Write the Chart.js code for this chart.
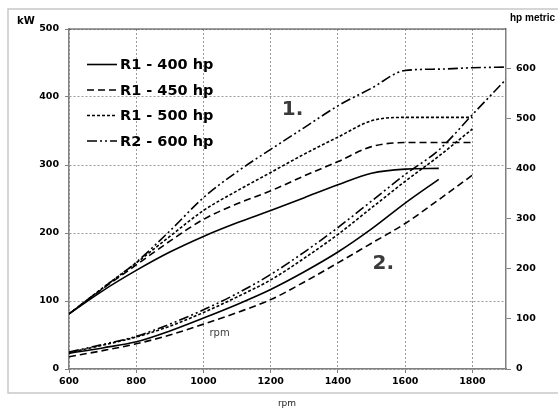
<!DOCTYPE html>
<html lang="en">
<head>
    <meta charset="UTF-8">
    <title>R1 / R2 power curves</title>
    <script src="https://cdn.jsdelivr.net/npm/chart.js"></script>
    <style>
        html, body { margin: 0; padding: 0; background: #fff; }
    </style>
</head>
<body>
    <canvas id="powerChart" width="558" height="412"></canvas>

    <script>
        // rpm points the curves were read at
        const rpm = [600, 700, 800, 900, 1000, 1100, 1200, 1300, 1400, 1500, 1600, 1700, 1800, 1900];

        const seriesNames = ['R1 - 400 hp', 'R1 - 450 hp', 'R1 - 500 hp', 'R2 - 600 hp'];

        // group 1. (upper curves), kW
        const upper400 = [81, 115, 145, 172, 195, 215, 233, 252, 271, 288, 294, 295, null, null];
        const upper450 = [81, 118, 153, 188, 220, 243, 262, 284, 305, 327, 333, 333, 333, null];
        const upper500 = [81, 119, 156, 195, 233, 262, 289, 316, 341, 365, 370, 370, 370, null];
        const upper600 = [81, 119, 157, 203, 252, 290, 323, 355, 387, 413, 439, 441, 443, 444];

        // group 2. (lower curves), kW
        const lower400 = [23, 31, 40, 56, 75, 95, 117, 143, 172, 206, 244, 279, null, null];
        const lower450 = [18, 27, 37, 50, 66, 83, 102, 128, 156, 185, 214, 249, 285, null];
        const lower500 = [24, 35, 47, 63, 83, 106, 131, 163, 198, 237, 276, 313, 353, null];
        const lower600 = [25, 36, 48, 66, 87, 111, 139, 172, 208, 247, 286, 322, 374, 426];

        const rpmTicks = [600, 800, 1000, 1200, 1400, 1600, 1800];
        const kwTicks = [0, 100, 200, 300, 400, 500];
        const hpTicks = [0, 100, 200, 300, 400, 500, 600];

        const KW_PER_HP = 0.7355;
        const lineStyles = [[], [7, 4], [3, 2], [10, 3, 2, 3, 2, 3]];

        function toPoints(values) {
            return rpm.map((r, i) => ({ x: r, y: values[i] }));
        }

        function makeDataset(label, values, dash) {
            return {
                label: label,
                data: toPoints(values),
                borderColor: '#000',
                borderWidth: 1.6,
                borderDash: dash,
                pointRadius: 0,
                fill: false,
                cubicInterpolationMode: 'monotone',
                spanGaps: false,
                yAxisID: 'y'
            };
        }

        const upperSets = [upper400, upper450, upper500, upper600];
        const lowerSets = [lower400, lower450, lower500, lower600];

        const datasets = [];
        upperSets.forEach((v, i) => datasets.push(makeDataset(seriesNames[i], v, lineStyles[i])));
        lowerSets.forEach((v, i) => datasets.push(makeDataset(seriesNames[i] + ' (2.)', v, lineStyles[i])));

        const tickFont = { family: '"DejaVu Sans"', size: 9.5, weight: 'bold' };
        const plain = v => String(v);

        // frame, titles and the two group markers
        const decorPlugin = {
            id: 'decor',
            beforeDraw(chart) {
                const ctx = chart.ctx;
                ctx.save();
                ctx.fillStyle = '#fff';
                ctx.fillRect(0, 0, chart.width, chart.height);
                ctx.strokeStyle = '#c8c8c8';
                ctx.lineWidth = 1.5;
                ctx.strokeRect(8, 9, chart.width, 384);
                ctx.restore();
            },
            afterDraw(chart) {
                const { ctx, chartArea, scales } = chart;
                ctx.save();
                // solid top edge of the plot
                ctx.strokeStyle = '#404040';
                ctx.lineWidth = 1.2;
                ctx.beginPath();
                ctx.moveTo(chartArea.left, chartArea.top);
                ctx.lineTo(chartArea.right, chartArea.top);
                ctx.stroke();

                ctx.fillStyle = '#000';
                ctx.font = 'bold 10px "DejaVu Sans"';
                ctx.textBaseline = 'middle';
                ctx.textAlign = 'left';
                ctx.fillText('kW', 17, 21);
                ctx.font = 'bold 10px "Liberation Sans"';
                ctx.fillText('hp metric', 510, 18);

                ctx.font = '9px "DejaVu Sans"';
                ctx.textAlign = 'center';
                ctx.fillStyle = '#222';
                ctx.fillText('rpm', 287, 404);
                ctx.fillStyle = '#404040';
                ctx.font = '10px "DejaVu Sans"';
                ctx.fillText('rpm', scales.x.getPixelForValue(1048), scales.y.getPixelForValue(53));

                ctx.font = 'bold 20px "DejaVu Sans"';
                ctx.fillStyle = '#3a3a3a';
                ctx.fillText('1.', scales.x.getPixelForValue(1265), scales.y.getPixelForValue(381));
                ctx.fillText('2.', scales.x.getPixelForValue(1535), scales.y.getPixelForValue(154));
                ctx.restore();
            }
        };

        // legend sitting inside the plot, top left
        const insideLegend = {
            id: 'insideLegend',
            afterDatasetsDraw(chart) {
                const { ctx, chartArea } = chart;
                const x0 = chartArea.left + 18;
                const y0 = chartArea.top + 35.5;
                seriesNames.forEach((name, i) => {
                    const ds = chart.data.datasets[i];
                    const y = y0 + i * 25.5;
                    ctx.save();
                    ctx.strokeStyle = ds.borderColor;
                    ctx.lineWidth = ds.borderWidth;
                    ctx.setLineDash(ds.borderDash);
                    ctx.beginPath();
                    ctx.moveTo(x0, y);
                    ctx.lineTo(x0 + 30, y);
                    ctx.stroke();
                    ctx.setLineDash([]);
                    ctx.fillStyle = '#000';
                    ctx.font = 'bold 14.5px "DejaVu Sans"';
                    ctx.textBaseline = 'middle';
                    ctx.fillText(name, x0 + 33, y + 1);
                    ctx.restore();
                });
            }
        };

        const ctx = document.getElementById('powerChart').getContext('2d');
        const chart = new Chart(ctx, {
            type: 'line',
            data: { datasets: datasets },
            options: {
                responsive: false,
                animation: false,
                devicePixelRatio: 1,
                layout: { padding: { top: 29, left: 0, right: 0, bottom: 0 } },
                plugins: {
                    legend: { display: false },
                    tooltip: { enabled: false }
                },
                scales: {
                    x: {
                        type: 'linear',
                        min: 600,
                        max: 1900,
                        afterBuildTicks: s => { s.ticks = rpmTicks.map(v => ({ value: v })); },
                        afterFit: s => { s.height = 43; },
                        ticks: { font: tickFont, color: '#000', padding: 3, maxRotation: 0, callback: plain },
                        grid: { color: '#9a9a9a', lineWidth: 1, tickLength: 4, tickColor: '#808080' },
                        border: { color: '#808080', width: 1.5, dash: [2, 2] }
                    },
                    y: {
                        position: 'left',
                        min: 0,
                        max: 500,
                        afterBuildTicks: s => { s.ticks = kwTicks.map(v => ({ value: v })); },
                        afterFit: s => { s.width = 69; },
                        ticks: { font: tickFont, color: '#000', padding: 6, callback: plain },
                        grid: { color: '#9a9a9a', lineWidth: 1, tickLength: 4, tickColor: '#808080' },
                        border: { color: '#808080', width: 1.5, dash: [2, 2] }
                    },
                    hp: {
                        position: 'right',
                        min: 0,
                        max: 500 / KW_PER_HP,
                        afterBuildTicks: s => { s.ticks = hpTicks.map(v => ({ value: v })); },
                        afterFit: s => { s.width = 52; },
                        ticks: { font: tickFont, color: '#000', padding: 5, callback: plain },
                        grid: { drawOnChartArea: false, tickLength: 5, tickColor: '#808080' },
                        border: { color: '#808080', width: 1.5 }
                    }
                }
            },
            plugins: [decorPlugin, insideLegend]
        });
    </script>
</body>
</html>
